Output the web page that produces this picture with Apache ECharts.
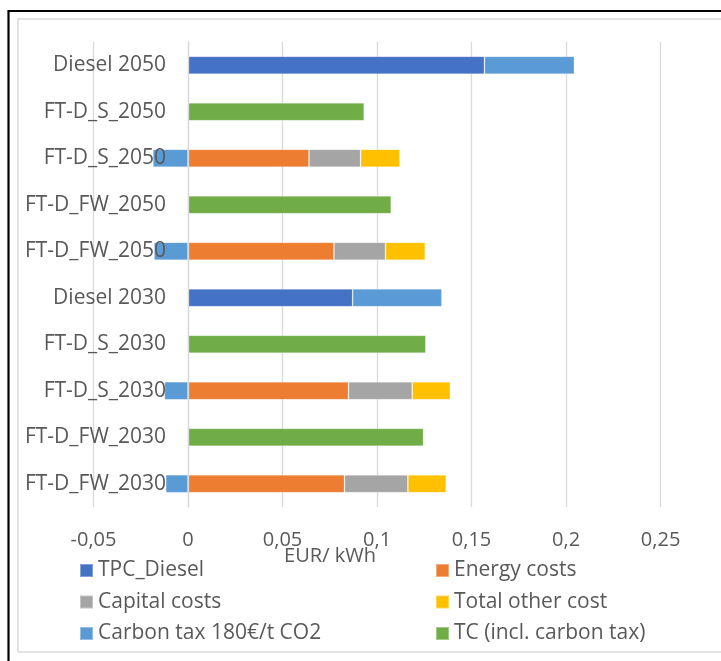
<!DOCTYPE html>
<html>
<head>
<meta charset="utf-8">
<script src="https://cdn.jsdelivr.net/npm/echarts@6/dist/echarts.min.js"></script>
<style>
  html, body { margin: 0; padding: 0; background: #fff; }
  #chart { width: 721px; height: 661px; }
</style>
</head>
<body>
<div id="chart"></div>
<script>
// Rows from top to bottom
const categories = [
  'Diesel 2050', 'FT-D_S_2050', 'FT-D_S_2050', 'FT-D_FW_2050', 'FT-D_FW_2050',
  'Diesel 2030', 'FT-D_S_2030', 'FT-D_S_2030', 'FT-D_FW_2030', 'FT-D_FW_2030'
];

// Cost components, EUR/kWh (null = not part of that row)
const tpcDiesel   = [0.1568, null, null,    null, null,    0.0871, null, null,    null, null];
const energyCosts = [null,   null, 0.0640,  null, 0.0772,  null,   null, 0.0849,  null, 0.0828];
const capitalCosts= [null,   null, 0.0273,  null, 0.0273,  null,   null, 0.0337,  null, 0.0335];
const otherCosts  = [null,   null, 0.0208,  null, 0.0210,  null,   null, 0.0202,  null, 0.0203];
const carbonTax   = [0.0476, null, -0.0186, null, -0.0180, 0.0472, null, -0.0125, null, -0.0118];
const totalCost   = [null, 0.0932, null,    0.1075, null,  null, 0.1258, null,    0.1246, null];

const seriesNames = [
  'TPC_Diesel', 'Energy costs', 'Capital costs',
  'Total other cost', 'Carbon tax 180€/t CO2', 'TC (incl. carbon tax)'
];
const seriesValues = [tpcDiesel, energyCosts, capitalCosts, otherCosts, carbonTax, totalCost];
const seriesColors = ['#4472C4', '#ED7D31', '#A5A5A5', '#FFC000', '#5B9BD5', '#70AD47'];

const FONT = "'Open Sans', 'Noto Sans', sans-serif";
const TEXT = '#595959';
const GRID_LINE = '#D9D9D9';

const GRID_LEFT = 93.5;
const GRID_WIDTH = 661.6;
const X_MIN = -0.05, X_MAX = 0.3;
// Pixel position of x = 0, where the category axis sits
const ZERO_X = GRID_LEFT + GRID_WIDTH * (0 - X_MIN) / (X_MAX - X_MIN);

const chart = echarts.init(document.getElementById('chart'), null, { renderer: 'canvas' });

// Legend laid out as two columns, three rows
const legendCols = [79, 435];
const legendRows = [560, 591.5, 623];
const legends = seriesNames.map((name, i) => ({
  data: [name],
  left: legendCols[i % 2],
  top: legendRows[Math.floor(i / 2)],
  padding: 0,
  icon: 'rect',
  itemWidth: 13,
  itemHeight: 13,
  selectedMode: false,
  textStyle: { fontFamily: FONT, fontSize: 21, color: TEXT, lineHeight: 21 }
}));

const option = {
  animation: false,
  backgroundColor: '#fff',
  grid: {
    left: GRID_LEFT, top: 42, width: GRID_WIDTH, height: 465,
    containLabel: false, outerBoundsMode: 'none'
  },
  xAxis: {
    type: 'value',
    min: X_MIN, max: X_MAX, interval: 0.05,
    axisLine: { show: false },
    axisTick: { show: false },
    splitLine: { show: true, lineStyle: { color: GRID_LINE, width: 1.3 } },
    axisLabel: {
      margin: 23,
      fontFamily: FONT, fontSize: 20, color: TEXT, lineHeight: 20,
      formatter: v => String(+v.toFixed(2)).replace('.', ',')
    }
  },
  yAxis: {
    type: 'category',
    data: categories,
    inverse: true,
    z: 5,
    // shift the axis from the grid's left edge to x = 0
    offset: -(ZERO_X - GRID_LEFT),
    axisLine: { show: true, onZero: false, lineStyle: { color: GRID_LINE, width: 1.3 } },
    axisTick: { show: false },
    splitLine: { show: false },
    axisLabel: {
      margin: 22,
      fontFamily: FONT, fontSize: 21, color: TEXT
    }
  },
  legend: legends,
  graphic: [
    {
      type: 'rect', silent: true, z: 10,
      shape: { x: 18, y: 19, width: 900, height: 633 },
      style: { fill: 'none', stroke: '#D9D9D9', lineWidth: 1.5 }
    },
    {
      type: 'rect', silent: true, z: 10,
      shape: { x: 8.5, y: 11, width: 900, height: 800 },
      style: { fill: 'none', stroke: '#000', lineWidth: 2.2 }
    },
    {
      type: 'text', silent: true, z: 10,
      x: 330, y: 556,
      style: {
        text: 'EUR/ kWh', fontFamily: FONT, fontSize: 20, fill: TEXT,
        align: 'center', verticalAlign: 'middle'
      }
    }
  ],
  series: seriesNames.map((name, i) => ({
    name,
    type: 'bar',
    stack: 'cost',
    barWidth: 18,
    data: seriesValues[i],
    itemStyle: { color: seriesColors[i], borderColor: 'rgba(255,255,255,0.35)', borderWidth: 0.8 }
  }))
};

chart.setOption(option);
</script>
</body>
</html>
